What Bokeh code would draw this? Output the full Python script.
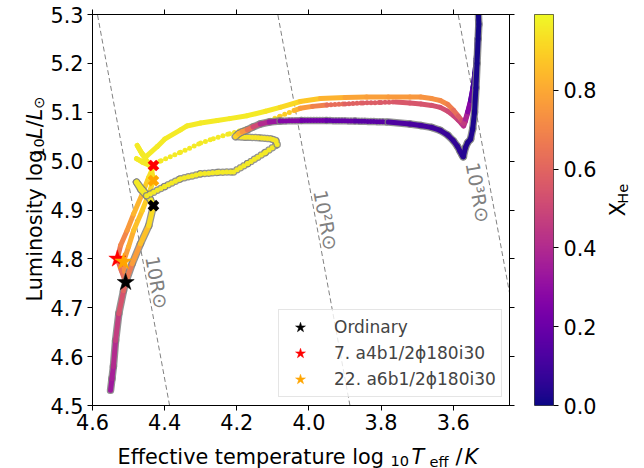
import math
import numpy as np
from bokeh.plotting import figure
from bokeh.layouts import row, column
from bokeh.core.properties import value
from bokeh.models import (Range1d, FixedTicker, LinearAxis, LinearColorMapper,
                          Legend, LegendItem, PrintfTickFormatter, ColumnDataSource, Label)
from bokeh.palettes import Plasma256
from bokeh.embed import file_html
from bokeh.resources import INLINE

FONT = "DejaVu Sans"

# ---------------- data ----------------
x_ticks = [4.6, 4.4, 4.2, 4.0, 3.8, 3.6]
y_ticks = [4.5, 4.6, 4.7, 4.8, 4.9, 5.0, 5.1, 5.2, 5.3]
cbar_ticks = [0.0, 0.2, 0.4, 0.6, 0.8]
xhe_max = 0.993

# Ordinary track: (log Teff, log L, X_He), split into solid / dotted parts
ord_ms_T = [4.550, 4.546, 4.542, 4.536, 4.527, 4.514, 4.508, 4.490, 4.467, 4.444, 4.431, 4.440, 4.460, 4.478, 4.466, 4.450]
ord_ms_L = [4.531, 4.555, 4.580, 4.633, 4.688, 4.735, 4.752, 4.790, 4.831, 4.868, 4.909, 4.922, 4.940, 4.957, 4.942, 4.929]
ord_ms_X = [0.33, 0.35, 0.38, 0.43, 0.50, 0.58, 0.62, 0.72, 0.82, 0.90, 0.95, 0.96, 0.96, 0.96, 0.96, 0.96]

ord_gap_T = [4.450, 4.400, 4.356, 4.300, 4.250, 4.209, 4.170, 4.120, 4.088]
ord_gap_L = [4.929, 4.948, 4.964, 4.974, 4.977, 4.978, 4.995, 5.018, 5.034]
ord_gap_X = [0.96, 0.96, 0.96, 0.96, 0.96, 0.96, 0.96, 0.96, 0.96]

ord_loop_T = [4.088, 4.092, 4.107, 4.140, 4.180, 4.204]
ord_loop_L = [5.034, 5.042, 5.046, 5.048, 5.049, 5.050]
ord_loop_X = [0.96, 0.96, 0.95, 0.95, 0.95, 0.94]

ord_turn_T = [4.204, 4.195, 4.185, 4.171, 4.155, 4.135, 4.110, 4.080]
ord_turn_L = [5.050, 5.056, 5.060, 5.064, 5.070, 5.076, 5.080, 5.082]
ord_turn_X = [0.93, 0.88, 0.80, 0.70, 0.58, 0.45, 0.36, 0.30]

ord_flat_T = [4.080, 4.020, 3.950, 3.870, 3.780]
ord_flat_L = [5.082, 5.083, 5.083, 5.082, 5.080]
ord_flat_X = [0.30, 0.24, 0.20, 0.17, 0.14]

ord_rsg_T = [3.780, 3.720, 3.690, 3.660, 3.636, 3.615, 3.600, 3.588, 3.581, 3.575, 3.572,
             3.566, 3.560, 3.552, 3.546, 3.541, 3.537, 3.534, 3.531, 3.529, 3.530]
ord_rsg_L = [5.080, 5.076, 5.073, 5.069, 5.063, 5.053, 5.042, 5.030, 5.020, 5.012, 5.009,
             5.028, 5.038, 5.045, 5.066, 5.100, 5.150, 5.200, 5.250, 5.280, 5.298]
ord_rsg_X = [0.14, 0.12, 0.11, 0.10, 0.09, 0.08, 0.07, 0.06, 0.05, 0.05, 0.04,
             0.04, 0.03, 0.03, 0.03, 0.02, 0.02, 0.02, 0.01, 0.01, 0.01]

# Model 7 (red)
t7_ms_T = [4.508, 4.520, 4.531, 4.522, 4.504, 4.486, 4.462, 4.444, 4.431, 4.455, 4.478, 4.462, 4.438]
t7_ms_L = [4.752, 4.776, 4.800, 4.828, 4.858, 4.892, 4.933, 4.967, 4.989, 4.997, 5.005, 4.998, 4.990]
t7_ms_X = [0.62, 0.63, 0.64, 0.68, 0.73, 0.80, 0.87, 0.92, 0.95, 0.96, 0.96, 0.96, 0.96]

t7_gap_T = [4.438, 4.410, 4.356, 4.300, 4.265, 4.220, 4.171, 4.120, 4.080, 4.040]
t7_gap_L = [4.990, 5.001, 5.018, 5.037, 5.046, 5.056, 5.066, 5.080, 5.092, 5.104]
t7_gap_X = [0.96, 0.96, 0.96, 0.96, 0.96, 0.96, 0.96, 0.95, 0.92, 0.86]

t7_mid_T = [4.040, 4.024, 3.990, 3.950]
t7_mid_L = [5.104, 5.108, 5.112, 5.115]
t7_mid_X = [0.86, 0.80, 0.72, 0.66]

t7_dots_T = [3.950, 3.900, 3.850, 3.800, 3.760]
t7_dots_L = [5.115, 5.117, 5.119, 5.120, 5.121]
t7_dots_X = [0.66, 0.60, 0.58, 0.57, 0.56]

t7_rsg_T = [3.760, 3.720, 3.690, 3.660, 3.636, 3.615, 3.599, 3.586, 3.576, 3.571, 3.566,
            3.560, 3.552, 3.545, 3.540, 3.536, 3.533, 3.531]
t7_rsg_L = [5.121, 5.119, 5.117, 5.114, 5.110, 5.102, 5.093, 5.084, 5.076, 5.072, 5.082,
            5.098, 5.122, 5.150, 5.180, 5.210, 5.250, 5.290]
t7_rsg_X = [0.56, 0.55, 0.55, 0.54, 0.53, 0.52, 0.50, 0.47, 0.45, 0.43, 0.40,
            0.35, 0.28, 0.18, 0.10, 0.05, 0.03, 0.02]

# Model 22 (orange)
t22_ms_T = [4.508, 4.511, 4.514, 4.500, 4.486, 4.462, 4.444, 4.431, 4.436, 4.447, 4.462, 4.476, 4.465, 4.453]
t22_ms_L = [4.752, 4.774, 4.794, 4.825, 4.858, 4.899, 4.933, 4.960, 4.982, 4.998, 5.014, 5.032, 5.018, 5.008]
t22_ms_X = [0.62, 0.70, 0.76, 0.80, 0.84, 0.88, 0.91, 0.93, 0.95, 0.96, 0.96, 0.96, 0.96, 0.96]

t22_post_T = [4.453, 4.420, 4.400, 4.356, 4.338, 4.300, 4.254, 4.220, 4.171, 4.120, 4.080, 4.024,
              3.968, 3.900, 3.840, 3.780, 3.720, 3.690, 3.660, 3.636, 3.615, 3.599, 3.586, 3.576,
              3.571, 3.566, 3.560, 3.552, 3.545, 3.540, 3.536, 3.533, 3.531]
t22_post_L = [5.008, 5.030, 5.045, 5.064, 5.072, 5.078, 5.083, 5.087, 5.093, 5.102, 5.110, 5.122,
              5.128, 5.130, 5.131, 5.131, 5.131, 5.131, 5.128, 5.124, 5.116, 5.104, 5.092, 5.083,
              5.078, 5.086, 5.101, 5.124, 5.152, 5.180, 5.210, 5.250, 5.290]
t22_post_X = [0.96, 0.96, 0.96, 0.96, 0.96, 0.96, 0.96, 0.96, 0.96, 0.96, 0.94, 0.90,
              0.85, 0.80, 0.78, 0.77, 0.76, 0.75, 0.74, 0.73, 0.70, 0.66, 0.60, 0.55,
              0.50, 0.42, 0.33, 0.22, 0.12, 0.06, 0.03, 0.02, 0.01]

# markers: star = start, X = end of stage
legend_labels = ["Ordinary", "7. a4b1/2\u03d5180i30", "22. a6b1/2\u03d5180i30"]
marker_colors = ["black", "red", "orange"]
star_T = [4.508, 4.531, 4.514]
star_L = [4.752, 4.800, 4.794]
xend_T = [4.431, 4.431, 4.431]
xend_L = [4.909, 4.991, 4.960]

# constant-radius lines
radii = [10, 100, 1000]
radius_labels = ["10R\u2299", "10\u00b2R\u2299", "10\u00b3R\u2299"]
radius_label_L = [4.752, 4.879, 4.936]
radius_label_off = [10, 10, -13]
log_T_sun = 3.7613

# ---------------- layout geometry (page pixels) ----------------
W, H = 644, 468
YLAB_W = 47            # strip with the rotated y label
XLAB_H = 28            # strip with the x label
TOP_H = H - XLAB_H
FL, FR, FT, FB = 92, 509, 14, 405   # main frame edges on the page
MAIN_R = 519           # right edge of the main figure on the page
CB_L, CB_R = 534, 553  # colour bar edges on the page
CB_FIG_R = 604         # right edge of the colour-bar figure
XR = (4.6, 3.444)
YR = (4.5, 5.3)

p = figure(width=MAIN_R - YLAB_W, height=TOP_H, x_range=Range1d(*XR), y_range=Range1d(*YR),
           output_backend="svg", toolbar_location=None, title=None,
           min_border_left=FL - YLAB_W, min_border_right=MAIN_R - FR,
           min_border_top=FT, min_border_bottom=TOP_H - FB)
p.grid.visible = False
p.outline_line_color = "black"
p.outline_line_width = 1
p.background_fill_color = "white"
p.border_fill_color = "white"

for ax in (p.xaxis[0], p.yaxis[0]):
    ax.major_label_text_font = FONT
    ax.major_label_text_font_size = "20.8px"
    ax.major_label_text_color = "black"
    ax.major_tick_out = 5
    ax.major_tick_in = 0
    ax.minor_tick_out = 0
    ax.minor_tick_in = 0
    ax.axis_line_color = "black"
    ax.major_tick_line_color = "black"
    ax.formatter = PrintfTickFormatter(format="%.1f")
p.xaxis[0].major_label_standoff = 3
p.yaxis[0].major_label_standoff = 4
p.xaxis[0].ticker = FixedTicker(ticks=x_ticks)
p.yaxis[0].ticker = FixedTicker(ticks=y_ticks)

ax_top = LinearAxis(ticker=FixedTicker(ticks=x_ticks), major_label_text_font_size="1px",
                    major_label_text_color=None, major_tick_out=5, major_tick_in=0,
                    minor_tick_out=0, minor_tick_in=0, major_label_standoff=0,
                    axis_line_color="black", major_tick_line_color="black")
ax_right = LinearAxis(ticker=FixedTicker(ticks=y_ticks), major_label_text_font_size="1px",
                      major_label_text_color=None, major_tick_out=5, major_tick_in=0,
                      minor_tick_out=0, minor_tick_in=0, major_label_standoff=0,
                      axis_line_color="black", major_tick_line_color="black")
p.add_layout(ax_top, "above")
p.add_layout(ax_right, "right")


def col(xv):
    f = min(max(xv / xhe_max, 0.0), 1.0)
    return Plasma256[int(round(f * 255))]


def draw(T, L, X, dotted=False, outline=False, dash_gap=4):
    src = ColumnDataSource(dict(
        x0=T[:-1], x1=T[1:], y0=L[:-1], y1=L[1:],
        c=[col(0.5 * (a + b)) for a, b in zip(X[:-1], X[1:])]))
    dash = "0 %d" % dash_gap if dotted else "solid"
    if outline:
        p.segment("x0", "y0", "x1", "y1", source=src, line_color="#808080", line_alpha=0.85,
                  line_width=7.5, line_cap="round", line_join="round", line_dash=dash)
    p.segment("x0", "y0", "x1", "y1", source=src, line_color="c",
              line_width=5, line_cap="round", line_join="round", line_dash=dash)


# radius lines
px_per_T = (FR - FL) / (XR[0] - XR[1])
px_per_L = (FB - FT) / (YR[1] - YR[0])
ang = -math.atan(4 * px_per_L / px_per_T)
for R, lab, Llab, off in zip(radii, radius_labels, radius_label_L, radius_label_off):
    lr = 2 * math.log10(R)
    Ls = [YR[0], YR[1]]
    Ts = [log_T_sun + (l - lr) / 4.0 for l in Ls]
    p.line(Ts, Ls, line_color="#808080", line_width=1, line_dash="5 3")
    p.add_layout(Label(x=log_T_sun + (Llab - lr) / 4.0, y=Llab, x_offset=off, text=lab,
                       angle=ang, text_align="center", text_baseline="middle",
                       text_font=FONT, text_font_size="19px", text_color="#808080"))

# tracks (7, 22 first, ordinary on top)
draw(t7_ms_T, t7_ms_L, t7_ms_X)
draw(t7_gap_T, t7_gap_L, t7_gap_X, dotted=True, dash_gap=5)
draw(t7_mid_T, t7_mid_L, t7_mid_X)
draw(t7_dots_T, t7_dots_L, t7_dots_X, dotted=True, dash_gap=4)
draw(t7_rsg_T, t7_rsg_L, t7_rsg_X)

draw(t22_ms_T, t22_ms_L, t22_ms_X)
draw(t22_post_T, t22_post_L, t22_post_X)

draw(ord_ms_T, ord_ms_L, ord_ms_X, outline=True)
draw(ord_gap_T, ord_gap_L, ord_gap_X, dotted=True, outline=True, dash_gap=4)
draw(ord_loop_T, ord_loop_L, ord_loop_X, dotted=True, outline=True, dash_gap=3)
draw(ord_turn_T, ord_turn_L, ord_turn_X, outline=True)
draw(ord_flat_T, ord_flat_L, ord_flat_X, dotted=True, outline=True, dash_gap=3)
draw(ord_rsg_T, ord_rsg_L, ord_rsg_X, outline=True)

# markers
star_renderers = []
for i in range(3):
    p.scatter([xend_T[i]], [xend_L[i]], marker="x", size=12, line_width=4.5,
              line_color=marker_colors[i])
    r = p.scatter([star_T[i]], [star_L[i]], marker="star", size=18,
                  fill_color=marker_colors[i], line_color=marker_colors[i], line_width=0.5)
    star_renderers.append(r)

legend = Legend(items=[LegendItem(label=lab, renderers=[r]) for lab, r in zip(legend_labels, star_renderers)],
                location=(186, 8), label_text_font=FONT, label_text_font_size="17px",
                glyph_width=34, glyph_height=26, spacing=0, padding=4, margin=0,
                label_standoff=17, label_width=163, label_height=20,
                border_line_color="#cccccc", border_line_width=1, background_fill_alpha=0.8)
p.add_layout(legend)

# ---------------- colour bar (its own small figure) ----------------
mapper = LinearColorMapper(palette=Plasma256, low=0.0, high=xhe_max)
cbf = figure(width=CB_FIG_R - MAIN_R, height=TOP_H, x_range=Range1d(0, 1), y_range=Range1d(0, xhe_max),
             output_backend="svg", toolbar_location=None, title=None,
             x_axis_location=None, y_axis_location="right",
             min_border_left=CB_L - MAIN_R, min_border_right=CB_FIG_R - CB_R,
             min_border_top=FT, min_border_bottom=TOP_H - FB)
cbf.grid.visible = False
cbf.image(image=[np.linspace(0.0, xhe_max, 256).reshape(256, 1)], x=0, y=0, dw=1, dh=xhe_max,
          color_mapper=mapper)
cbf.outline_line_color = "#444444"
cbf.outline_line_width = 1
cbf.border_fill_color = "white"
cax = cbf.yaxis[0]
cax.ticker = FixedTicker(ticks=cbar_ticks)
cax.formatter = PrintfTickFormatter(format="%.1f")
cax.major_label_text_font = FONT
cax.major_label_text_font_size = "20.8px"
cax.major_label_text_color = "black"
cax.major_tick_out = 5
cax.major_tick_in = 0
cax.minor_tick_out = 0
cax.minor_tick_in = 0
cax.major_label_standoff = 5
cax.axis_line_color = None
cax.major_tick_line_color = "black"


# ---------------- label strips (text assembled from pieces) ----------------
def strip(w, h):
    f = figure(width=w, height=h, x_range=Range1d(0, w), y_range=Range1d(0, h),
               output_backend="svg", toolbar_location=None, title=None, min_border=0,
               x_axis_location=None, y_axis_location=None)
    f.min_border_left = f.min_border_right = f.min_border_top = f.min_border_bottom = 0
    f.grid.visible = False
    f.outline_line_color = None
    f.background_fill_color = "white"
    f.border_fill_color = "white"
    return f


def piece(f, text, x, y, size="20.8px", style="normal", angle=0.0):
    f.text(x=[x], y=[y], text=[text], angle=angle, text_font=value(FONT),
           text_font_size=value(size), text_font_style=style, text_color="black",
           text_align="left", text_baseline="alphabetic")


# x label strip (page y from TOP_H to H)
xl = strip(W, XLAB_H)
bx = H - 456      # baseline (strip coordinates, y up)
bs = H - 460.5    # subscript baseline
piece(xl, "Effective temperature log", 117, bx)
piece(xl, "10", 390, bs, size="14.6px")
piece(xl, "T", 411, bx, style="italic")
piece(xl, "eff", 429, bs, size="14.6px")
piece(xl, "/", 455, bx)
piece(xl, "K", 464, bx, style="italic")

# y label strip (rotated, reading upwards)
A = math.pi / 2
yl = strip(YLAB_W, TOP_H)
piece(yl, "Luminosity log", 34, TOP_H - 323, angle=A)
piece(yl, "10", 38, TOP_H - 160, size="14.6px", angle=A)
piece(yl, "L", 34, TOP_H - 140, style="italic", angle=A)
piece(yl, "/", 34, TOP_H - 127, angle=A)
piece(yl, "L", 34, TOP_H - 119, style="italic", angle=A)
piece(yl, "\u2299", 38, TOP_H - 106, size="14.6px", angle=A)

# colour-bar label strip
cl = strip(W - CB_FIG_R, TOP_H)
piece(cl, "X", 617 - CB_FIG_R, TOP_H - 227, angle=A)
piece(cl, "He", 621.5 - CB_FIG_R, TOP_H - 213, size="14.6px", angle=A)

layout = column(row(yl, p, cbf, cl, spacing=0), xl, spacing=0)
open("out.html", "w").write(file_html(layout, INLINE))
